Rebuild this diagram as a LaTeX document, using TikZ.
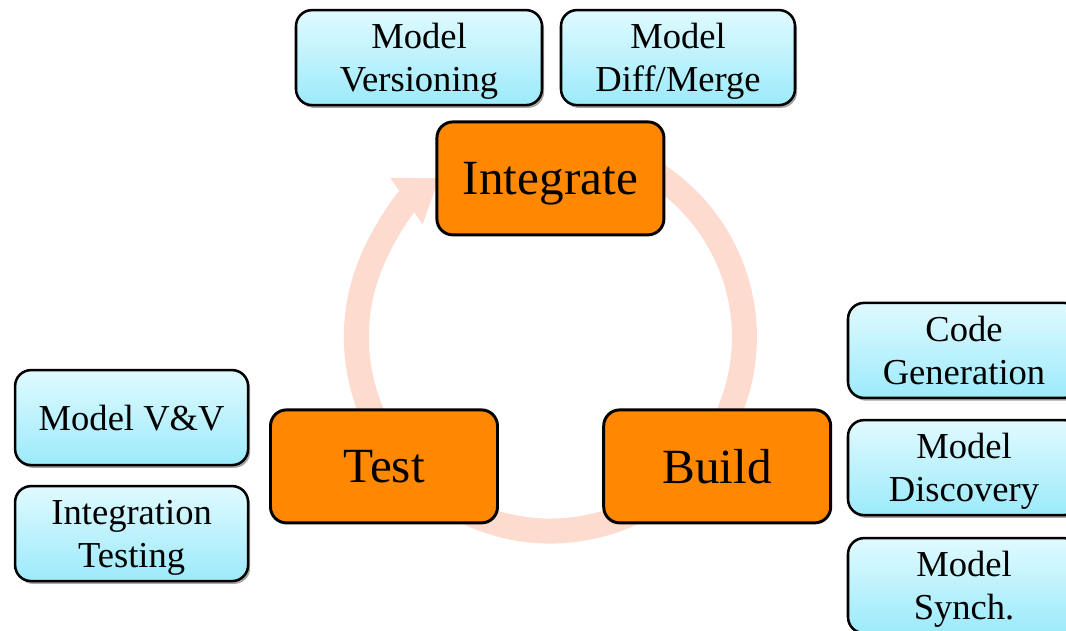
\documentclass[tikz,border=0pt]{standalone}
\usepackage{fontspec}
\setmainfont{Liberation Serif}
\usepackage{tikz}
\usetikzlibrary{shapes, arrows.meta, calc, positioning, shadows}

\definecolor{stageorange}{RGB}{255,136,0}
\definecolor{tasktop}{RGB}{224,250,255}
\definecolor{taskbottom}{RGB}{156,234,250}
\definecolor{ringpeach}{RGB}{253,219,207}

\begin{document}
\begin{tikzpicture}[
    stage/.style={draw=black, line width=2.1pt, rounded corners=0.4cm, fill=stageorange,
        minimum width=5.675cm, minimum height=2.825cm, align=center, text depth=0pt,
        font=\fontsize{35}{40}\selectfont},
    task/.style={draw=black, line width=1.8pt, rounded corners=0.4cm,
        top color=tasktop, bottom color=taskbottom,
        drop shadow={shadow xshift=1.5pt, shadow yshift=-2pt, opacity=0.35, fill=black},
        minimum height=2.375cm, align=center, text depth=0pt,
        font=\fontsize{26}{30.6}\selectfont},
    cyclering/.style={line width=0.625cm, draw=ringpeach,
        -{Triangle[length=1cm, width=1.35cm]}},
]
    \useasboundingbox (0,0) rectangle (26.65,15.75);

    % Cycle arrow
    \coordinate (cyc) at (13.76,7.325);
    \draw[cyclering] ($(cyc)+(70:4.85)$) arc[start angle=70, end angle=-235, radius=4.85];

    % Stages
    \node[stage] (integ) at (13.76,11.29) {Integrate};
    \node[stage] (test) at (9.6,4.09) {Test};
    \node[stage] (build) at (17.93,4.09) {Build};

    % Integrate tasks
    \node[task, minimum width=6.15cm] (versioning) at (10.475,14.31) {Model\\Versioning};
    \node[task, minimum width=5.85cm] (diffmerge) at (16.95,14.31) {Model\\Diff/Merge};

    % Build tasks
    \node[task, minimum width=5.8cm] (codegen) at (24.1,6.99) {Code\\Generation};
    \node[task, minimum width=5.8cm] (discovery) at (24.1,4.06) {Model\\Discovery};
    \node[task, minimum width=5.8cm] (synch) at (24.1,1.11) {Model\\Synch.};

    % Test tasks
    \node[task, minimum width=5.825cm] (vv) at (3.29,5.31) {Model V\&V};
    \node[task, minimum width=5.825cm] (ittest) at (3.29,2.41) {Integration\\Testing};

\end{tikzpicture}
\end{document}
